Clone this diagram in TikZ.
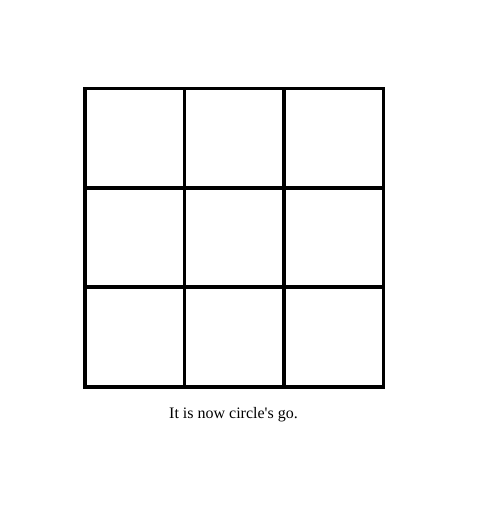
\documentclass[tikz,border=0pt]{standalone}
\usepackage{fontspec}
\setmainfont{Liberation Serif}[Ligatures=TeXOff]
\usetikzlibrary{positioning}

\begin{document}
\begin{tikzpicture}[
  x=0.75pt, y=-0.75pt,
  cell/.style={draw, line width=2.7pt, inner sep=0pt, minimum size=74.8pt},
  status/.style={font=\fontsize{12pt}{14pt}\selectfont, inner sep=0pt},
]
\useasboundingbox (0,0) rectangle (479,513);
% board
\foreach \r in {1,2,3}
  \foreach \c in {1,2,3}
    \node[cell] (cell-\r-\c) at ({84.8+(\c-0.5)*99.6},{88.8+(\r-0.5)*99.3}) {};
% status line
\node[status, anchor=base] (msg) at (233.5,418) {It is now circle's go.};
\end{tikzpicture}
\end{document}
